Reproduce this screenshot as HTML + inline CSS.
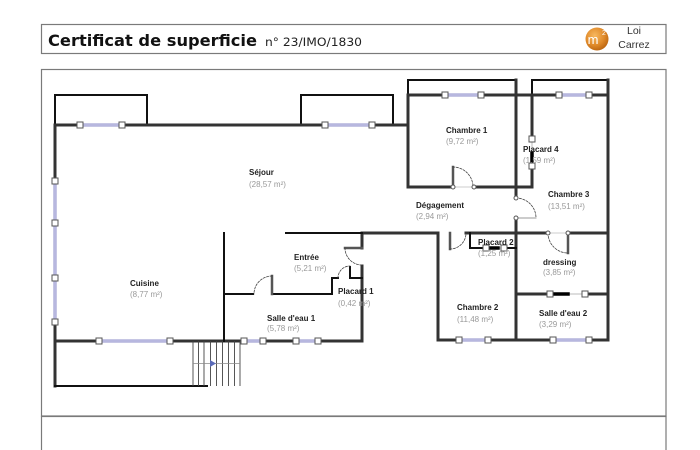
<!DOCTYPE html>
<html><head><meta charset="utf-8"><style>
html,body{margin:0;padding:0;background:#fff;}
svg{display:block;}
</style></head><body>
<svg width="700" height="450" viewBox="0 0 700 450" xmlns="http://www.w3.org/2000/svg">
<defs>
<radialGradient id="og" cx="40%" cy="35%" r="70%">
<stop offset="0" stop-color="#f7b860"/><stop offset="0.6" stop-color="#e08a2a"/><stop offset="1" stop-color="#b8620f"/>
</radialGradient>
</defs>
<rect x="0" y="0" width="700" height="450" fill="#fff"/>
<!-- header box -->
<rect x="41.5" y="24.5" width="624.5" height="29" fill="#fff" stroke="#7a7a7a" stroke-width="1.2"/>
<text x="48" y="46" font-family="DejaVu Sans, sans-serif" font-weight="bold" font-size="16" textLength="209" lengthAdjust="spacingAndGlyphs" fill="#111">Certificat de superficie</text>
<text x="265" y="46" font-family="DejaVu Sans, sans-serif" font-size="11.5" textLength="97" lengthAdjust="spacingAndGlyphs" fill="#222">n° 23/IMO/1830</text>
<circle cx="597" cy="39" r="11.5" fill="url(#og)"/>
<text x="593" y="44" font-family="Liberation Sans, sans-serif" font-size="13" fill="#fff" text-anchor="middle">m</text>
<text x="602" y="35" font-family="Liberation Sans, sans-serif" font-size="7" fill="#fff">2</text>
<text x="634" y="34" font-family="Liberation Sans, sans-serif" font-size="10.5" fill="#333" text-anchor="middle">Loi</text>
<text x="634" y="48" font-family="Liberation Sans, sans-serif" font-size="10.5" fill="#333" text-anchor="middle">Carrez</text>
<!-- plan box -->
<rect x="41.5" y="69.5" width="624.5" height="346.5" fill="#fff" stroke="#7a7a7a" stroke-width="1.2"/>
<rect x="41.5" y="416.5" width="624.5" height="40" fill="#fff" stroke="#7a7a7a" stroke-width="1.2"/>

<g fill="none" stroke-linecap="square">
<!-- balconies (thin black) -->
<g stroke="#111" stroke-width="2">
<polyline points="55,125 55,95 147,95 147,125"/>
<polyline points="301,125 301,95 393,95 393,125"/>
<polyline points="408,95 408,80 516,80 516,95"/>
<polyline points="532,95 532,80 608,80 608,95"/>
</g>
<!-- main walls -->
<g stroke="#333" stroke-width="3">
<line x1="55" y1="125" x2="408" y2="125"/>
<line x1="55" y1="125" x2="55" y2="386"/>
<line x1="408" y1="95" x2="608" y2="95"/>
<line x1="408" y1="95" x2="408" y2="187"/>
<line x1="608" y1="80" x2="608" y2="340"/>
<line x1="408" y1="187" x2="453" y2="187"/>
<line x1="474" y1="187" x2="532" y2="187"/>
<line x1="532" y1="95" x2="532" y2="139"/>
<line x1="532" y1="166" x2="532" y2="187"/>
<line x1="516" y1="80" x2="516" y2="198"/>
<line x1="516" y1="218" x2="516" y2="340"/>
<line x1="362" y1="233" x2="438" y2="233"/>
<line x1="438" y1="233" x2="438" y2="340"/>
<line x1="438" y1="340" x2="608" y2="340"/>
<line x1="466" y1="233" x2="548" y2="233"/>
<line x1="568" y1="233" x2="608" y2="233"/>
<line x1="55" y1="341" x2="362" y2="341"/>
<line x1="362" y1="233" x2="362" y2="248"/>
<line x1="362" y1="266" x2="362" y2="341"/>
<line x1="516" y1="294" x2="550" y2="294"/>
<line x1="585" y1="294" x2="608" y2="294"/>
</g>
<g stroke="#111" stroke-width="2">
<line x1="286" y1="233" x2="362" y2="233"/>
<line x1="224" y1="233" x2="224" y2="341"/>
<line x1="224" y1="294" x2="253" y2="294"/>
<line x1="272" y1="294" x2="332" y2="294"/>
<line x1="55" y1="386" x2="207" y2="386"/>
<line x1="470" y1="233" x2="470" y2="248"/>
<line x1="470" y1="248" x2="486" y2="248"/>
<line x1="504" y1="248" x2="516" y2="248"/>
<polyline points="350,267 350,278 362,278"/>
<polyline points="332,294 332,278 338,278"/>
</g>
<!-- door leaves -->
<g stroke="#555" stroke-width="2.5">
<line x1="272" y1="276" x2="272" y2="294"/>
<line x1="345" y1="248" x2="362" y2="248"/>
<line x1="453" y1="167" x2="453" y2="187"/>
<line x1="450" y1="233" x2="450" y2="249"/>
<line x1="568" y1="233" x2="568" y2="253"/>
</g>
<line x1="516" y1="218" x2="536" y2="218" stroke="#999" stroke-width="1"/>
<line x1="453" y1="187" x2="474" y2="187" stroke="#ccc" stroke-width="1"/>
<line x1="548" y1="233" x2="568" y2="233" stroke="#ccc" stroke-width="1"/>
<!-- door arcs -->
<g stroke="#444" stroke-width="0.8" stroke-dasharray="2,1.5">
<path d="M272,276 A18,18 0 0 0 254,294"/>
<path d="M345,248 A17,17 0 0 0 362,265"/>
<path d="M453,167 A20,20 0 0 1 473,187"/>
<path d="M516,198 A20,20 0 0 1 536,218"/>
<path d="M450,249 A16,16 0 0 0 466,233"/>
<path d="M548,233 A20,20 0 0 0 568,253"/>
<path d="M338,278 A12,12 0 0 1 350,266"/>
</g>
<!-- windows -->
<g stroke="#8c8cc8" stroke-width="3">
<line x1="80" y1="125" x2="122" y2="125"/>
<line x1="325" y1="125" x2="372" y2="125"/>
<line x1="445" y1="95" x2="481" y2="95"/>
<line x1="559" y1="95" x2="589" y2="95"/>
<line x1="55" y1="181" x2="55" y2="322"/>
<line x1="99" y1="341" x2="170" y2="341"/>
<line x1="244" y1="341" x2="263" y2="341"/>
<line x1="296" y1="341" x2="318" y2="341"/>
<line x1="459" y1="340" x2="488" y2="340"/>
<line x1="553" y1="340" x2="589" y2="340"/>
</g>
<g stroke="#e2e2f6" stroke-width="1">
<line x1="80" y1="125" x2="122" y2="125"/>
<line x1="325" y1="125" x2="372" y2="125"/>
<line x1="445" y1="95" x2="481" y2="95"/>
<line x1="559" y1="95" x2="589" y2="95"/>
<line x1="55" y1="181" x2="55" y2="322"/>
<line x1="99" y1="341" x2="170" y2="341"/>
<line x1="244" y1="341" x2="263" y2="341"/>
<line x1="296" y1="341" x2="318" y2="341"/>
<line x1="459" y1="340" x2="488" y2="340"/>
<line x1="553" y1="340" x2="589" y2="340"/>
</g>
<!-- placard thin + black bars -->
<line x1="532" y1="139" x2="532" y2="166" stroke="#bbb" stroke-width="1"/>
<line x1="532" y1="153" x2="532" y2="163" stroke="#000" stroke-width="3.5"/>
<line x1="486" y1="248" x2="504" y2="248" stroke="#bbb" stroke-width="1"/>
<line x1="490" y1="248" x2="498" y2="248" stroke="#000" stroke-width="3.5"/>
<line x1="550" y1="294" x2="585" y2="294" stroke="#bbb" stroke-width="1"/>
<line x1="555" y1="294" x2="568" y2="294" stroke="#000" stroke-width="3.5"/>
</g>
<!-- squares -->
<g fill="#fff" stroke="#555" stroke-width="1">
<rect x="77" y="122" width="6" height="6"/><rect x="119" y="122" width="6" height="6"/>
<rect x="322" y="122" width="6" height="6"/><rect x="369" y="122" width="6" height="6"/>
<rect x="442" y="92" width="6" height="6"/><rect x="478" y="92" width="6" height="6"/>
<rect x="556" y="92" width="6" height="6"/><rect x="586" y="92" width="6" height="6"/>
<rect x="52" y="178" width="6" height="6"/><rect x="52" y="220" width="6" height="6"/>
<rect x="52" y="275" width="6" height="6"/><rect x="52" y="319" width="6" height="6"/>
<rect x="96" y="338" width="6" height="6"/><rect x="167" y="338" width="6" height="6"/>
<rect x="241" y="338" width="6" height="6"/><rect x="260" y="338" width="6" height="6"/>
<rect x="293" y="338" width="6" height="6"/><rect x="315" y="338" width="6" height="6"/>
<rect x="456" y="337" width="6" height="6"/><rect x="485" y="337" width="6" height="6"/>
<rect x="550" y="337" width="6" height="6"/><rect x="586" y="337" width="6" height="6"/>
<rect x="529" y="136" width="6" height="6"/><rect x="529" y="163" width="6" height="6"/>
<rect x="483" y="245" width="6" height="6"/><rect x="501" y="245" width="6" height="6"/>
<rect x="547" y="291" width="6" height="6"/><rect x="582" y="291" width="6" height="6"/>
<circle cx="453" cy="187" r="2"/><circle cx="474" cy="187" r="2"/>
<circle cx="516" cy="198" r="2"/><circle cx="516" cy="218" r="2"/>
<circle cx="548" cy="233" r="2"/><circle cx="568" cy="233" r="2"/>
</g>
<!-- stairs -->
<g stroke="#444" stroke-width="0.9" fill="none">
<line x1="193" y1="341" x2="193" y2="386"/><line x1="198.5" y1="341" x2="198.5" y2="386"/>
<line x1="204" y1="341" x2="204" y2="386"/><line x1="210.5" y1="341" x2="210.5" y2="386"/>
<line x1="216.5" y1="341" x2="216.5" y2="386"/><line x1="222.5" y1="341" x2="222.5" y2="386"/>
<line x1="228.5" y1="341" x2="228.5" y2="386"/><line x1="234.5" y1="341" x2="234.5" y2="386"/>
<line x1="240" y1="341" x2="240" y2="386"/>
<line x1="193" y1="363.5" x2="240" y2="363.5" stroke="#888" stroke-width="0.7"/>
</g>
<polygon points="210,360 216,363.5 210,367" fill="#5a6ab8"/>

<!-- labels -->
<g font-family="Liberation Sans, sans-serif" font-size="8">
<g font-weight="bold" fill="#222">
<text x="249" y="175">Séjour</text>
<text x="130" y="286">Cuisine</text>
<text x="294" y="260">Entrée</text>
<text x="338" y="294">Placard 1</text>
<text x="267" y="321">Salle d'eau 1</text>
<text x="446" y="133">Chambre 1</text>
<text x="523" y="152">Placard 4</text>
<text x="548" y="197">Chambre 3</text>
<text x="416" y="208">Dégagement</text>
<text x="478" y="245">Placard 2</text>
<text x="543" y="265">dressing</text>
<text x="457" y="310">Chambre 2</text>
<text x="539" y="316">Salle d'eau 2</text>
</g>
<g fill="#999">
<text x="249" y="187">(28,57 m²)</text>
<text x="130" y="297">(8,77 m²)</text>
<text x="294" y="271">(5,21 m²)</text>
<text x="338" y="306">(0,42 m²)</text>
<text x="267" y="331">(5,78 m²)</text>
<text x="446" y="144">(9,72 m²)</text>
<text x="523" y="163">(1,59 m²)</text>
<text x="548" y="209">(13,51 m²)</text>
<text x="416" y="219">(2,94 m²)</text>
<text x="478" y="256">(1,25 m²)</text>
<text x="543" y="275">(3,85 m²)</text>
<text x="457" y="322">(11,48 m²)</text>
<text x="539" y="327">(3,29 m²)</text>
</g>
</g>
</svg>
</body></html>
